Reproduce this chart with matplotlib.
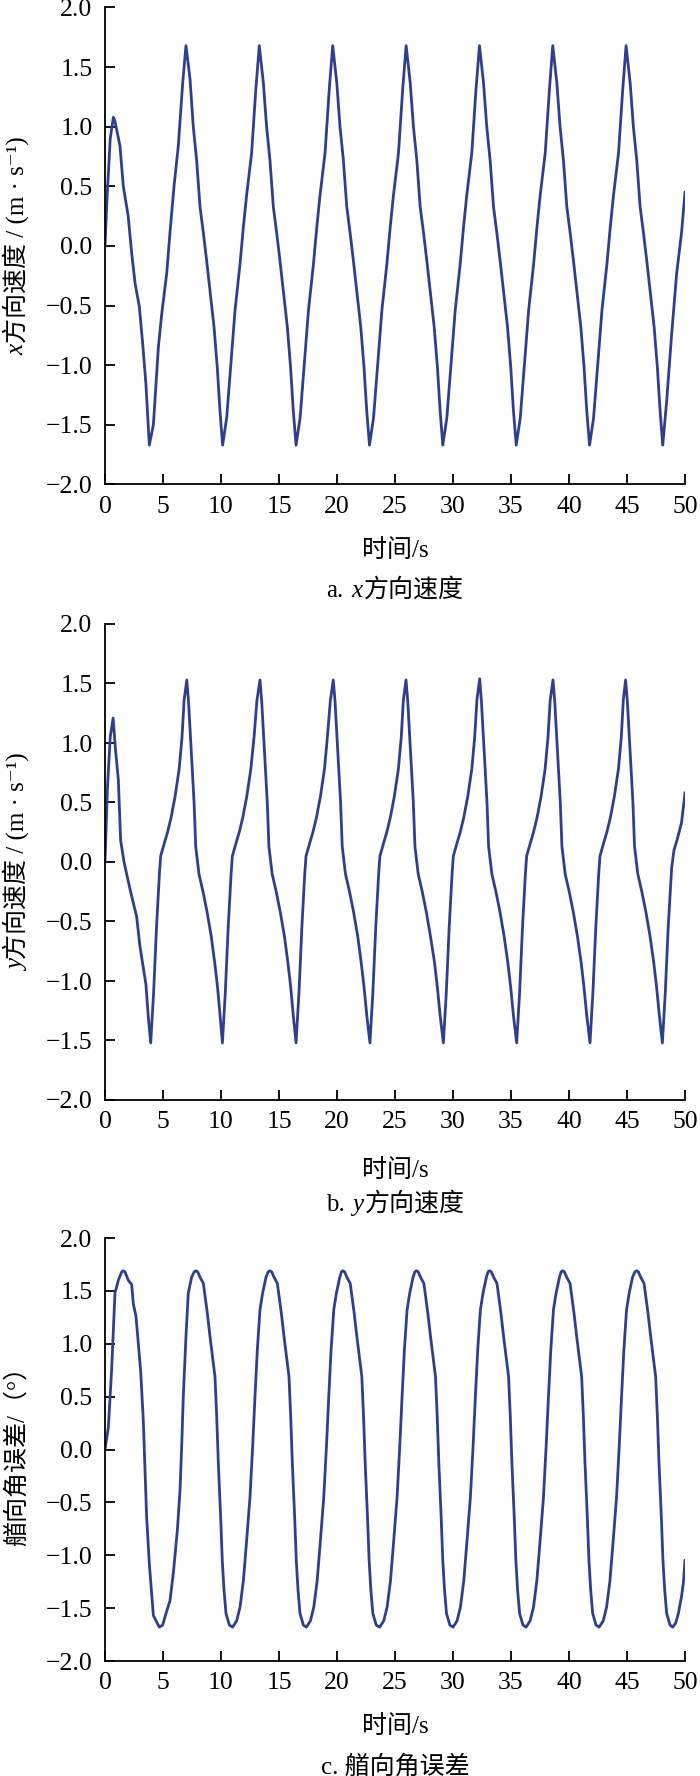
import matplotlib
matplotlib.use('Agg')
import matplotlib.pyplot as plt
from matplotlib.ticker import MultipleLocator, FuncFormatter

FAMILY = ['Liberation Serif', 'DejaVu Serif', 'Noto Sans CJK SC']
plt.rcParams['font.family'] = FAMILY

# x direction speed (m/s)
time_a = [0.00, 0.15, 0.45, 0.72, 0.85, 1.29, 1.58, 2.00, 2.30, 2.59, 2.96, 3.25, 3.53, 3.82,
          4.17, 4.60, 4.89, 5.32, 5.60, 5.95, 6.32, 6.70, 6.98,
          7.33, 7.61, 7.90, 8.19, 8.48, 8.76, 9.05, 9.40, 9.68, 9.91, 10.14,
          10.49, 10.92, 11.21, 11.64, 11.93, 12.20, 12.64, 13.00, 13.30,
          13.65, 13.93, 14.22, 14.51, 14.80, 15.08, 15.37, 15.72, 16.00, 16.23, 16.47,
          16.82, 17.25, 17.54, 17.97, 18.26, 18.53, 18.97, 19.33, 19.63,
          19.98, 20.26, 20.55, 20.84, 21.13, 21.41, 21.70, 22.05, 22.33, 22.56, 22.80,
          23.15, 23.58, 23.87, 24.30, 24.59, 24.86, 25.30, 25.66, 25.96,
          26.31, 26.59, 26.88, 27.17, 27.46, 27.74, 28.03, 28.38, 28.66, 28.89, 29.12,
          29.47, 29.90, 30.19, 30.62, 30.91, 31.18, 31.62, 31.98, 32.28,
          32.63, 32.91, 33.20, 33.49, 33.78, 34.06, 34.35, 34.70, 34.98, 35.21, 35.45,
          35.80, 36.23, 36.52, 36.95, 37.24, 37.51, 37.95, 38.31, 38.60,
          38.95, 39.23, 39.52, 39.81, 40.10, 40.38, 40.67, 41.02, 41.30, 41.53, 41.77,
          42.12, 42.55, 42.84, 43.27, 43.56, 43.83, 44.27, 44.63, 44.92,
          45.27, 45.55, 45.84, 46.13, 46.42, 46.70, 46.99, 47.34, 47.62, 47.85, 48.08,
          48.42, 48.85, 49.28, 49.70, 50.00]
vel_x = [0.00, 0.35, 0.90, 1.08, 1.05, 0.84, 0.50, 0.25, -0.06, -0.31, -0.51, -0.82, -1.16, -1.67,
         -1.50, -0.85, -0.57, -0.23, 0.11, 0.50, 0.84, 1.37, 1.68,
         1.40, 1.00, 0.72, 0.33, 0.11, -0.12, -0.37, -0.68, -1.02, -1.38, -1.67,
         -1.44, -0.90, -0.54, -0.15, 0.16, 0.42, 0.78, 1.31, 1.68,
         1.37, 1.00, 0.72, 0.33, 0.11, -0.12, -0.37, -0.68, -1.02, -1.38, -1.67,
         -1.44, -0.90, -0.54, -0.15, 0.16, 0.42, 0.78, 1.31, 1.68,
         1.37, 1.00, 0.72, 0.33, 0.11, -0.12, -0.37, -0.68, -1.02, -1.38, -1.67,
         -1.44, -0.90, -0.54, -0.15, 0.16, 0.42, 0.78, 1.31, 1.68,
         1.37, 1.00, 0.72, 0.33, 0.11, -0.12, -0.37, -0.68, -1.02, -1.38, -1.67,
         -1.44, -0.90, -0.54, -0.15, 0.16, 0.42, 0.78, 1.31, 1.68,
         1.37, 1.00, 0.72, 0.33, 0.11, -0.12, -0.37, -0.68, -1.02, -1.38, -1.67,
         -1.44, -0.90, -0.54, -0.15, 0.16, 0.42, 0.78, 1.31, 1.68,
         1.37, 1.00, 0.72, 0.33, 0.11, -0.12, -0.37, -0.68, -1.02, -1.38, -1.67,
         -1.44, -0.90, -0.54, -0.15, 0.16, 0.42, 0.78, 1.31, 1.68,
         1.37, 1.00, 0.72, 0.33, 0.11, -0.12, -0.37, -0.68, -1.02, -1.38, -1.67,
         -1.30, -0.74, -0.23, 0.11, 0.45]

# y direction speed (m/s), panel b
time_b = [0.00, 0.20, 0.45, 0.70, 0.90, 1.15, 1.35, 1.64, 2.16, 2.73, 3.00, 3.30, 3.53, 3.74, 3.94,
          4.19, 4.44, 4.69, 4.80, 5.09, 5.39, 5.69, 6.04, 6.39, 6.64, 6.82, 7.05,
          7.20, 7.40, 7.68, 7.82, 8.10, 8.45, 8.80, 9.15, 9.45, 9.70, 9.93, 10.12,
          10.37, 10.62, 10.87, 10.98, 11.27, 11.57, 11.87, 12.22, 12.57, 12.85, 13.10, 13.36,
          13.51, 13.71, 13.99, 14.13, 14.41, 14.76, 15.11, 15.46, 15.76, 16.01, 16.24, 16.47,
          16.72, 16.97, 17.22, 17.33, 17.62, 17.92, 18.22, 18.57, 18.92, 19.17, 19.43, 19.68,
          19.83, 20.03, 20.31, 20.45, 20.73, 21.08, 21.43, 21.78, 22.08, 22.33, 22.58, 22.84,
          23.09, 23.34, 23.59, 23.70, 23.99, 24.29, 24.59, 24.94, 25.29, 25.54, 25.72, 25.95,
          26.10, 26.30, 26.58, 26.72, 27.00, 27.35, 27.70, 28.05, 28.40, 28.65, 28.90, 29.17,
          29.42, 29.67, 29.92, 30.03, 30.32, 30.62, 30.92, 31.27, 31.62, 31.87, 32.06, 32.30,
          32.45, 32.65, 32.93, 33.07, 33.35, 33.70, 34.05, 34.40, 34.72, 34.97, 35.22, 35.49,
          35.74, 35.99, 36.24, 36.35, 36.64, 36.94, 37.24, 37.59, 37.94, 38.19, 38.38, 38.62,
          38.77, 38.97, 39.25, 39.39, 39.67, 40.02, 40.37, 40.72, 41.04, 41.29, 41.54, 41.81,
          42.06, 42.31, 42.56, 42.67, 42.96, 43.26, 43.56, 43.91, 44.26, 44.51, 44.68, 44.88,
          45.03, 45.23, 45.51, 45.65, 45.93, 46.28, 46.63, 46.98, 47.30, 47.55, 47.80, 48.05,
          48.30, 48.55, 48.85, 49.05, 49.30, 49.70, 50.00]
vel_y = [0.00, 0.60, 1.05, 1.21, 0.95, 0.69, 0.18, 0.00, -0.23, -0.46, -0.70, -0.89, -1.03, -1.31, -1.52,
         -1.10, -0.55, -0.10, 0.05, 0.15, 0.25, 0.37, 0.55, 0.78, 1.05, 1.36, 1.53,
         1.35, 1.00, 0.50, 0.13, -0.10, -0.25, -0.42, -0.62, -0.84, -1.05, -1.30, -1.52,
         -1.10, -0.55, -0.10, 0.05, 0.15, 0.25, 0.37, 0.55, 0.78, 1.05, 1.36, 1.53,
         1.35, 1.00, 0.50, 0.13, -0.10, -0.25, -0.42, -0.62, -0.84, -1.05, -1.30, -1.52,
         -1.10, -0.55, -0.10, 0.05, 0.15, 0.25, 0.37, 0.55, 0.78, 1.05, 1.36, 1.53,
         1.35, 1.00, 0.50, 0.13, -0.10, -0.25, -0.42, -0.62, -0.84, -1.05, -1.30, -1.52,
         -1.10, -0.55, -0.10, 0.05, 0.15, 0.25, 0.37, 0.55, 0.78, 1.05, 1.36, 1.53,
         1.35, 1.00, 0.50, 0.13, -0.10, -0.25, -0.42, -0.62, -0.84, -1.05, -1.30, -1.52,
         -1.10, -0.55, -0.10, 0.05, 0.15, 0.25, 0.37, 0.55, 0.78, 1.05, 1.36, 1.54,
         1.35, 1.00, 0.50, 0.13, -0.10, -0.25, -0.42, -0.62, -0.84, -1.05, -1.30, -1.52,
         -1.10, -0.55, -0.10, 0.05, 0.15, 0.25, 0.37, 0.55, 0.78, 1.05, 1.36, 1.53,
         1.35, 1.00, 0.50, 0.13, -0.10, -0.25, -0.42, -0.62, -0.84, -1.05, -1.30, -1.52,
         -1.10, -0.55, -0.10, 0.05, 0.15, 0.25, 0.37, 0.55, 0.78, 1.05, 1.36, 1.53,
         1.35, 1.00, 0.50, 0.13, -0.10, -0.25, -0.42, -0.62, -0.84, -1.05, -1.30, -1.52,
         -1.10, -0.55, -0.05, 0.10, 0.18, 0.33, 0.58]

# heading angle error (deg), panel c
time_c = [0.00, 0.29, 0.57, 0.86, 1.15, 1.44, 1.58, 1.72, 2.01, 2.30, 2.44, 2.67, 2.87, 3.07, 3.30,
          3.45, 3.59, 3.82, 4.02, 4.17, 4.40, 4.68,
          4.97, 5.26, 5.60, 5.89, 6.24, 6.47, 6.61, 6.75, 6.98, 7.18, 7.47, 7.69, 7.84,
          7.99, 8.19, 8.48, 8.71, 8.82, 9.05, 9.34, 9.48, 9.63, 9.77, 9.97, 10.11, 10.26, 10.43, 10.72, 11.00,
          11.35, 11.64, 11.93, 12.21, 12.50, 12.73, 12.93, 13.13, 13.36, 13.59, 13.88, 14.07, 14.22,
          14.37, 14.57, 14.86, 15.09, 15.20, 15.43, 15.72, 15.86, 16.01, 16.15, 16.35, 16.49, 16.64, 16.81, 17.10, 17.36,
          17.71, 18.00, 18.29, 18.57, 18.86, 19.09, 19.29, 19.49, 19.72, 19.95, 20.24, 20.38, 20.50,
          20.65, 20.85, 21.14, 21.37, 21.48, 21.71, 22.00, 22.14, 22.29, 22.43, 22.63, 22.77, 22.92, 23.09, 23.38, 23.68,
          24.03, 24.32, 24.61, 24.89, 25.18, 25.41, 25.61, 25.81, 26.04, 26.27, 26.56, 26.71, 26.85,
          27.00, 27.20, 27.49, 27.72, 27.83, 28.06, 28.35, 28.49, 28.64, 28.78, 28.98, 29.12, 29.27, 29.44, 29.73, 30.00,
          30.35, 30.64, 30.93, 31.21, 31.50, 31.73, 31.93, 32.13, 32.36, 32.59, 32.88, 33.02, 33.15,
          33.30, 33.50, 33.79, 34.02, 34.13, 34.36, 34.65, 34.79, 34.94, 35.08, 35.28, 35.42, 35.57, 35.74, 36.03, 36.30,
          36.65, 36.94, 37.23, 37.51, 37.80, 38.03, 38.23, 38.43, 38.66, 38.89, 39.18, 39.32, 39.45,
          39.60, 39.80, 40.09, 40.32, 40.43, 40.66, 40.95, 41.09, 41.24, 41.38, 41.58, 41.72, 41.87, 42.04, 42.33, 42.60,
          42.95, 43.24, 43.53, 43.81, 44.10, 44.33, 44.53, 44.73, 44.96, 45.19, 45.48, 45.68, 45.83,
          45.98, 46.18, 46.47, 46.70, 46.81, 47.04, 47.33, 47.47, 47.62, 47.76, 47.96, 48.10, 48.25, 48.42, 48.71, 48.94,
          49.20, 49.43, 49.70, 49.86, 50.00]
yaw_err = [0.00, 0.21, 0.75, 1.48, 1.60, 1.68, 1.69, 1.68, 1.60, 1.56, 1.38, 1.26, 1.00, 0.75, 0.28,
           -0.20, -0.64, -1.08, -1.36, -1.57, -1.62, -1.68,
           -1.66, -1.55, -1.43, -1.17, -0.76, -0.38, 0.03, 0.50, 1.07, 1.48, 1.63, 1.68, 1.69,
           1.68, 1.63, 1.57, 1.38, 1.29, 1.07, 0.81, 0.69, 0.31, -0.13, -0.64, -1.05, -1.33, -1.55, -1.66, -1.68,
           -1.62, -1.49, -1.24, -0.86, -0.45, 0.03, 0.50, 0.94, 1.32, 1.48, 1.63, 1.68, 1.69,
           1.68, 1.63, 1.57, 1.38, 1.29, 1.07, 0.81, 0.69, 0.31, -0.13, -0.64, -1.05, -1.33, -1.55, -1.66, -1.68,
           -1.62, -1.49, -1.24, -0.86, -0.45, 0.03, 0.50, 0.94, 1.32, 1.48, 1.63, 1.68, 1.69,
           1.68, 1.63, 1.57, 1.38, 1.29, 1.07, 0.81, 0.69, 0.31, -0.13, -0.64, -1.05, -1.33, -1.55, -1.66, -1.68,
           -1.62, -1.49, -1.24, -0.86, -0.45, 0.03, 0.50, 0.94, 1.32, 1.48, 1.63, 1.68, 1.69,
           1.68, 1.63, 1.57, 1.38, 1.29, 1.07, 0.81, 0.69, 0.31, -0.13, -0.64, -1.05, -1.33, -1.55, -1.66, -1.68,
           -1.62, -1.49, -1.24, -0.86, -0.45, 0.03, 0.50, 0.94, 1.32, 1.48, 1.63, 1.68, 1.69,
           1.68, 1.63, 1.57, 1.38, 1.29, 1.07, 0.81, 0.69, 0.31, -0.13, -0.64, -1.05, -1.33, -1.55, -1.66, -1.68,
           -1.62, -1.49, -1.24, -0.86, -0.45, 0.03, 0.50, 0.94, 1.32, 1.48, 1.63, 1.68, 1.69,
           1.68, 1.63, 1.57, 1.38, 1.29, 1.07, 0.81, 0.69, 0.31, -0.13, -0.64, -1.05, -1.33, -1.55, -1.66, -1.68,
           -1.62, -1.49, -1.24, -0.86, -0.45, 0.03, 0.50, 0.94, 1.32, 1.48, 1.63, 1.68, 1.69,
           1.68, 1.63, 1.57, 1.38, 1.29, 1.07, 0.81, 0.69, 0.31, -0.13, -0.64, -1.05, -1.33, -1.55, -1.66, -1.68,
           -1.64, -1.55, -1.39, -1.26, -1.05]

LINE = '#2E3F8E'
W, H = 700, 1776
fig = plt.figure(figsize=(W / 100, H / 100), dpi=100)


def rich_text(pieces, cx, cy, size, rotation=0):
    # pieces: (text, style, gap in px); centre given in px from the top-left
    rend = fig.canvas.get_renderer()
    arts, lens = [], []
    for s, style, gap in pieces:
        t = fig.text(0, 0, s, fontsize=size, style=style, rotation=rotation,
                     rotation_mode='anchor', ha='left', va='baseline')
        bb = t.get_window_extent(rend)
        arts.append(t)
        lens.append((bb.height if rotation else bb.width) + gap)
    pos = -sum(lens) / 2
    shift = 0.35 * size * 100 / 72
    for t, L in zip(arts, lens):
        if rotation:
            t.set_position(((cx + shift) / W, (H - cy + pos) / H))
        else:
            t.set_position(((cx + pos) / W, (H - cy - shift) / H))
        pos += L


def fmt(v, pos):
    if abs(v) < 1e-9:
        v = 0.0
    return f'{v:.1f}'.replace('-', '\u2212')


panels = [
    (time_a, vel_x, 7.5, 484.5,
     [('x', 'italic', 1), ('方向速度 / (m · s⁻¹)', 'normal', 0)],
     [('a.', 'normal', 8), ('x', 'italic', 1), ('方向速度', 'normal', 0)], 551, 588),
    (time_b, vel_y, 624, 1100,
     [('y', 'italic', 1), ('方向速度 / (m · s⁻¹)', 'normal', 0)],
     [('b.', 'normal', 8), ('y', 'italic', 1), ('方向速度', 'normal', 0)], 1171, 1202),
    (time_c, yaw_err, 1238, 1661,
     [('艏向角误差/（°）', 'normal', 0)],
     [('c. 艏向角误差', 'normal', 0)], 1727, 1765),
]

for t, v, top, bottom, ylab, cap, xl_y, cap_y in panels:
    ax = fig.add_axes([105 / W, 1 - bottom / H, 580 / W, (bottom - top) / H])
    ax.plot(t, v, color=LINE, lw=2.0, solid_joinstyle='round')
    ax.set_xlim(0, 50)
    ax.set_ylim(-2, 2)
    ax.xaxis.set_major_locator(MultipleLocator(5))
    ax.yaxis.set_major_locator(MultipleLocator(0.5))
    ax.yaxis.set_major_formatter(FuncFormatter(fmt))
    for side in ['top', 'right']:
        ax.spines[side].set_visible(False)
    for side in ['left', 'bottom']:
        ax.spines[side].set_linewidth(1.3)
    ax.tick_params(direction='in', length=7, width=1.3, labelsize=18.5)
    ax.tick_params(axis='x', pad=8)
    ax.tick_params(axis='y', pad=9)

    fig.text((105 + 290) / W, 1 - xl_y / H, '时间/s', fontsize=18, ha='center', va='center')
    rich_text(cap, 395, cap_y, 18)
    rich_text(ylab, 15, (top + bottom) / 2, 18, rotation=90)

fig.savefig('out.png', dpi=100)
